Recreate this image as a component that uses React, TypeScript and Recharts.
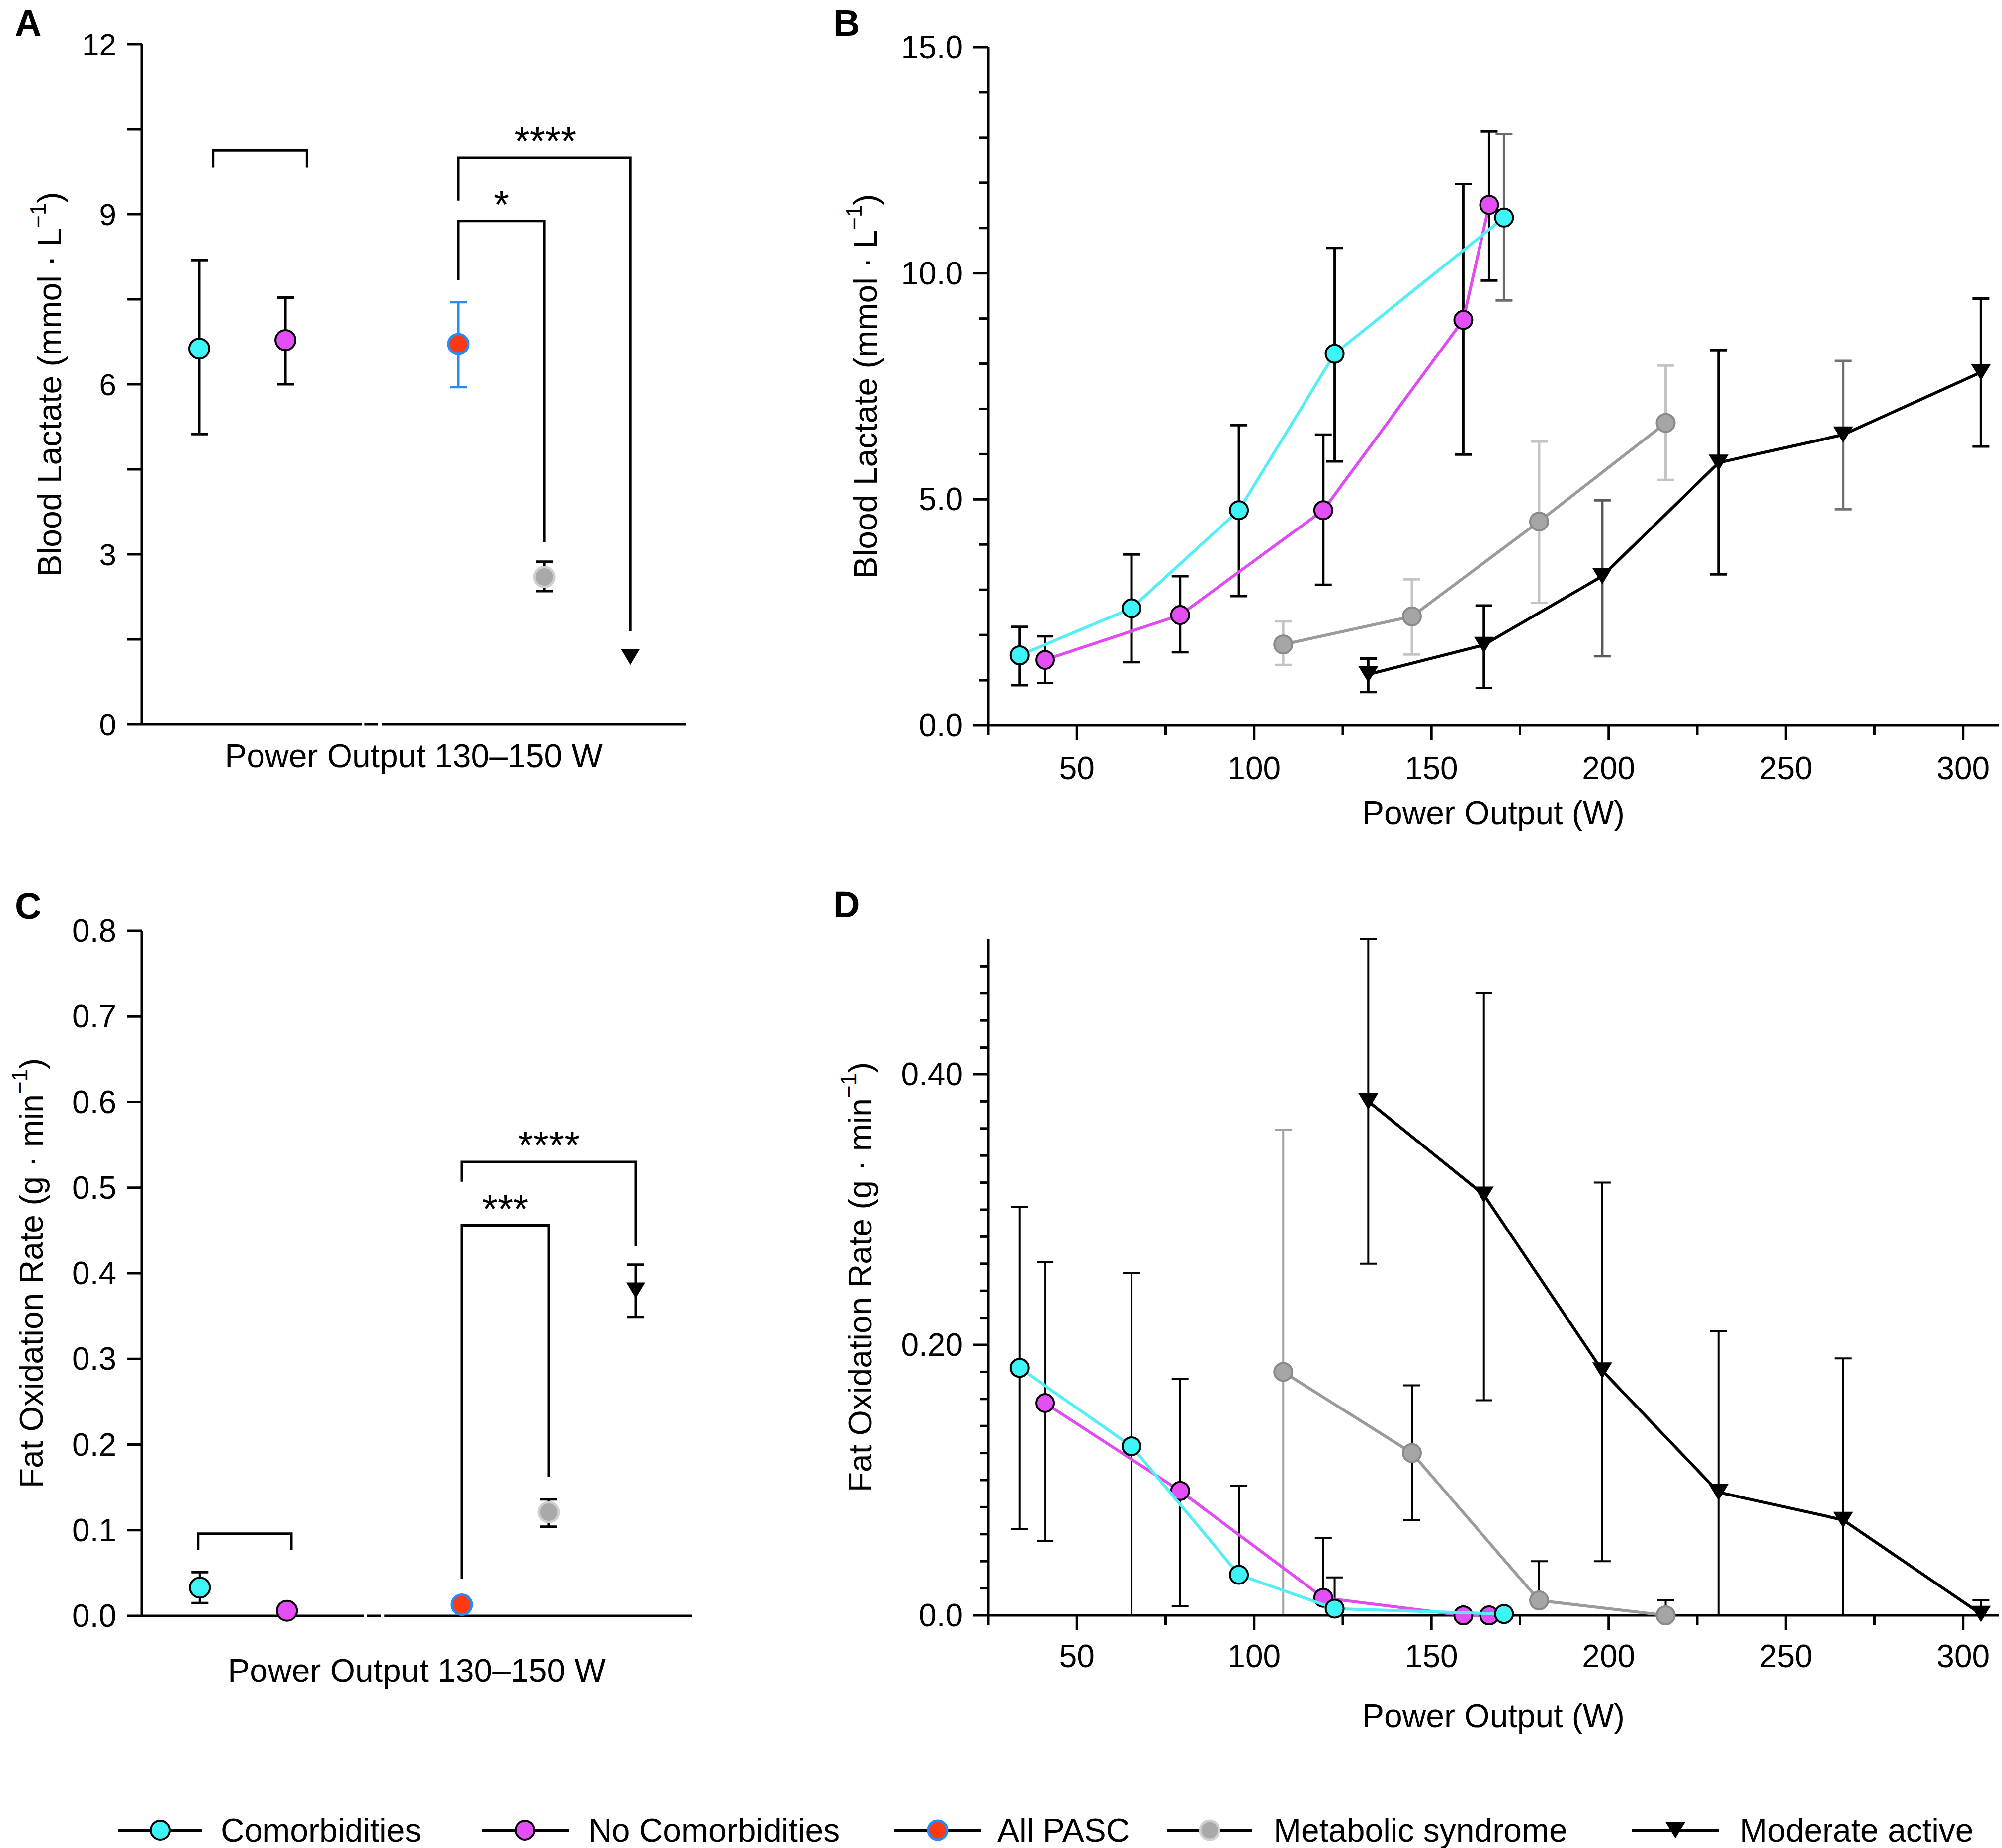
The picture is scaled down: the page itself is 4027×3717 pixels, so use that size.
import React from 'react';
import { ComposedChart, Scatter, XAxis, YAxis, ErrorBar } from 'recharts';

const FONT = '"Liberation Sans", Arial, Helvetica, sans-serif';

// ---------- panels A and C : one stage, 130–150 W ----------
const groupNames = ['Comorbidities', 'No Comorbidities', 'All PASC', 'Metabolic syndrome', 'Moderate active'];
const groupPos = [0.67, 1.67, 3.68, 4.68, 5.68];

const lactMean = [6.63, 6.78, 6.71, 2.6, 1.19];
const lactLow = [5.12, 6.0, 5.95, 2.35, 1.19];
const lactHigh = [8.19, 7.53, 7.45, 2.87, 1.19];

const fatMean = [0.033, 0.006, 0.013, 0.121, 0.38];
const fatLow = [0.015, 0.006, 0.013, 0.104, 0.349];
const fatHigh = [0.051, 0.006, 0.013, 0.136, 0.41];

// significance brackets (data units) and their stars
const lactBrackets = [
  [[0.83, 9.83], [0.83, 10.13], [1.92, 10.13], [1.92, 9.83]],
  [[3.68, 9.24], [3.68, 10.0], [5.68, 10.0], [5.68, 1.64]],
  [[3.68, 7.84], [3.68, 8.88], [4.68, 8.88], [4.68, 3.22]],
];
const lactStars = [{ x: 4.69, y: 10.0, text: '****' }, { x: 4.18, y: 8.88, text: '*' }];

const fatBrackets = [
  [[0.65, 0.077], [0.65, 0.096], [1.72, 0.096], [1.72, 0.077]],
  [[3.68, 0.507], [3.68, 0.53], [5.68, 0.53], [5.68, 0.432]],
  [[3.68, 0.043], [3.68, 0.456], [4.68, 0.456], [4.68, 0.162]],
];
const fatStars = [{ x: 4.68, y: 0.53, text: '****' }, { x: 4.18, y: 0.456, text: '***' }];

// broken baseline of A and C
const baseSegments = [[0, 2.56], [2.59, 2.75], [2.79, 6.32]];

const lactTicksA = [0, 1.5, 3, 4.5, 6, 7.5, 9, 10.5, 12];
const lactLabelsA = ['0', '', '3', '', '6', '', '9', '', '12'];
const fatTicksC = [0, 0.1, 0.2, 0.3, 0.4, 0.5, 0.6, 0.7, 0.8];
const fatLabelsC = ['0.0', '0.1', '0.2', '0.3', '0.4', '0.5', '0.6', '0.7', '0.8'];

// ---------- panels B and D : incremental test ----------
const comorbW = [33.8, 65.4, 95.7, 122.7, 170.5];
const noComorbW = [41.0, 79.1, 119.5, 159.0, 166.3];
const metW = [108.2, 144.5, 180.4, 216.1];
const modW = [132.2, 164.8, 198.2, 231.0, 266.2, 305.0];

const comorbLact = [1.55, 2.59, 4.76, 8.22, 11.23];
const comorbLactLo = [0.89, 1.4, 2.86, 5.84, 9.4];
const comorbLactHi = [2.18, 3.78, 6.64, 10.56, 13.08];
const noComorbLact = [1.45, 2.44, 4.76, 8.97, 11.51];
const noComorbLactLo = [0.94, 1.62, 3.11, 5.99, 9.84];
const noComorbLactHi = [1.97, 3.3, 6.43, 11.97, 13.14];
const metLact = [1.79, 2.41, 4.51, 6.69];
const metLactLo = [1.34, 1.57, 2.71, 5.43];
const metLactHi = [2.3, 3.23, 6.28, 7.96];
const modLact = [1.13, 1.78, 3.3, 5.81, 6.43, 7.81];
const modLactLo = [0.74, 0.83, 1.53, 3.34, 4.78, 6.17];
const modLactHi = [1.48, 2.65, 4.98, 8.3, 8.06, 9.44];

const comorbFat = [0.183, 0.125, 0.03, 0.005, 0.001];
const comorbFatLo = [0.064, 0, 0.03, 0.005, 0.001];
const comorbFatHi = [0.302, 0.253, 0.096, 0.028, 0.001];
const noComorbFat = [0.157, 0.092, 0.013, 0, 0];
const noComorbFatLo = [0.055, 0.007, 0.013, 0, 0];
const noComorbFatHi = [0.261, 0.175, 0.057, 0, 0];
const metFat = [0.18, 0.12, 0.011, 0];
const metFatLo = [0, 0.0705, 0.011, 0];
const metFatHi = [0.359, 0.17, 0.04, 0.011];
const modFat = [0.38, 0.311, 0.181, 0.091, 0.0705, 0.001];
const modFatLo = [0.26, 0.159, 0.04, 0, 0, 0];
const modFatHi = [0.5, 0.46, 0.32, 0.21, 0.19, 0.011];

const wattTicks = [25, 50, 75, 100, 125, 150, 175, 200, 225, 250, 275, 300];
const wattLabelVals = [50, 100, 150, 200, 250, 300];
const wattLabels = ['50', '100', '150', '200', '250', '300'];
const lactTicksB = [0, 1, 2, 3, 4, 5, 6, 7, 8, 9, 10, 11, 12, 13, 14, 15];
const lactLabelValsB = [0, 5, 10, 15];
const lactLabelsB = ['0.0', '5.0', '10.0', '15.0'];
const fatTicksD = Array.from({ length: 25 }, (_, i) => +(i * 0.02).toFixed(2));
const fatLabelValsD = [0, 0.2, 0.4];
const fatLabelsD = ['0.0', '0.20', '0.40'];

// error bar tones per point
const K = '#000';
const lactTone = {
  comorb: [K, K, K, K, '#6b6b6b'],
  noComorb: [K, K, K, K, K],
  met: ['#c4c4c4', '#c4c4c4', '#c4c4c4', '#c4c4c4'],
  mod: [K, K, '#5a5a5a', K, '#707070', K],
};
const fatTone = {
  comorb: [K, K, K, K, K],
  noComorb: [K, K, K, K, K],
  met: ['#a0a0a0', K, K, K],
  mod: [K, K, K, K, K, K],
};

// ---------- styling ----------
const CYAN = '#3df5f6';
const CYAN_LINE = '#55eef6';
const MAG = '#e44ef5';
const MAG_LINE = '#e14cf2';
const RED = '#ff3a12';
const BLUE = '#1f8cff';
const GREY = '#a5a5a5';

type Row = { x: number; y: number; err: [number, number]; tone: string };
const buildRows = (xs: number[], m: number[], lo: number[], hi: number[], tone: string[]): Row[] =>
  xs.map((x, i) => ({ x, y: m[i], err: [m[i] - lo[i], hi[i] - m[i]], tone: tone[i] }));

const blank = () => <g />;
const circle = (fill: string, stroke: string, r: number, sw: number) => (p: any) =>
  <circle cx={p.cx} cy={p.cy} r={r} fill={fill} stroke={stroke} strokeWidth={sw} />;
const tri = (w: number, h: number) => (p: any) =>
  <path d={`M${p.cx - w / 2},${p.cy - h / 2}L${p.cx + w / 2},${p.cy - h / 2}L${p.cx},${p.cy + h / 2}Z`} fill="#000" />;

const shapesAC = [
  circle(CYAN, '#000', 20, 4),
  circle(MAG, '#000', 20, 4),
  circle(RED, BLUE, 20, 5),
  circle('#a9a9a9', '#d0d0d0', 20, 5),
  tri(38, 32),
];
const errColorAC = [K, K, '#2a8cf2', K, K];

const yTickFn = (vals: number[], labels: string[], major: number, minor: number, fs: number) => (p: any) => {
  const v = p.payload.value;
  const i = vals.findIndex((t) => Math.abs(t - v) < 1e-6);
  const lab = i >= 0 ? labels[i] : '';
  const len = lab ? major : minor;
  return (
    <g>
      <line x1={p.x - len} x2={p.x} y1={p.y} y2={p.y} stroke="#000" strokeWidth={5} />
      {lab ? (
        <text x={p.x - major - 21} y={p.y} textAnchor="end" dominantBaseline="central" fontSize={fs} fontFamily={FONT} fill="#000">
          {lab}
        </text>
      ) : null}
    </g>
  );
};

const xTickFn = (vals: number[], labels: string[], major: number, minor: number, fs: number, dy: number) => (p: any) => {
  const v = p.payload.value;
  const i = vals.findIndex((t) => Math.abs(t - v) < 1e-6);
  const len = i >= 0 ? major : minor;
  return (
    <g>
      <line x1={p.x} x2={p.x} y1={p.y} y2={p.y + len} stroke="#000" strokeWidth={5} />
      {i >= 0 ? (
        <text x={p.x} y={p.y + dy} textAnchor="middle" dominantBaseline="central" fontSize={fs} fontFamily={FONT} fill="#000">
          {labels[i]}
        </text>
      ) : null}
    </g>
  );
};

const yTitle = (text: string, cx: number, cy: number) => () => (
  <text x={cx} y={cy} transform={`rotate(-90 ${cx} ${cy})`} textAnchor="middle" dominantBaseline="central" fontSize={66} fontFamily={FONT} fill="#000">
    {text}
    <tspan dy={-24} fontSize={44}>−1</tspan>
    <tspan dy={24}>)</tspan>
  </text>
);

const xTitle = (text: string, cx: number, cy: number) => () => (
  <text x={cx} y={cy} textAnchor="middle" dominantBaseline="central" fontSize={66} fontFamily={FONT} fill="#000">
    {text}
  </text>
);

const lineScatter = (key: string, pts: number[][], width = 5) => (
  <Scatter
    key={key}
    data={pts.map(([x, y]) => ({ x, y }))}
    dataKey="y"
    line={{ stroke: '#000', strokeWidth: width }}
    lineType="joint"
    shape={blank}
    isAnimationActive={false}
  />
);

const starScatter = (key: string, s: { x: number; y: number; text: string }) => (
  <Scatter
    key={key}
    data={[{ x: s.x, y: s.y }]}
    dataKey="y"
    isAnimationActive={false}
    shape={(p: any) => (
      <text x={p.cx} y={p.cy - 6} textAnchor="middle" fontSize={80} fontFamily={FONT} fill="#000">
        {s.text}
      </text>
    )}
  />
);

const groupScatters = (mean: number[], low: number[], high: number[]) =>
  groupPos.map((x, i) => (
    <Scatter
      key={groupNames[i]}
      name={groupNames[i]}
      data={[{ x, y: mean[i], err: [mean[i] - low[i], high[i] - mean[i]] }]}
      dataKey="y"
      shape={shapesAC[i]}
      isAnimationActive={false}
    >
      {high[i] > low[i] ? (
        <ErrorBar dataKey="err" direction="y" width={17} stroke={errColorAC[i]} strokeWidth={5} isAnimationActive={false} />
      ) : null}
    </Scatter>
  ));

const errLayers = (rows: Row[], key: string, sw: number) => {
  const tones = Array.from(new Set(rows.map((r) => r.tone)));
  return tones.map((t) => (
    <Scatter key={key + t} data={rows.filter((r) => r.tone === t)} dataKey="y" shape={blank} isAnimationActive={false}>
      <ErrorBar dataKey="err" direction="y" width={17} stroke={t} strokeWidth={sw} isAnimationActive={false} />
    </Scatter>
  ));
};

const seriesScatter = (rows: Row[], name: string, color: string, shape: any) => (
  <Scatter
    key={name}
    name={name}
    data={rows}
    dataKey="y"
    line={{ stroke: color, strokeWidth: 6 }}
    lineType="joint"
    shape={shape}
    isAnimationActive={false}
  />
);

const PanelA = () => (
  <ComposedChart width={1420} height={1640} margin={{ top: 89, right: 41, bottom: 33, left: 35 }}>
    <XAxis type="number" dataKey="x" domain={[0, 6.32]} tick={false} tickLine={false} axisLine={false} height={150}
      label={{ content: xTitle('Power Output 130–150 W', 832, 1520) }} />
    <YAxis type="number" dataKey="y" domain={[0, 12]} ticks={lactTicksA} interval={0} width={250}
      tickSize={0} tickMargin={0} tickLine={false} axisLine={{ stroke: '#000', strokeWidth: 5 }}
      tick={yTickFn(lactTicksA, lactLabelsA, 30, 30, 62)}
      label={{ content: yTitle('Blood Lactate (mmol · L', 100, 773) }} />
    {baseSegments.map((s, i) => lineScatter('base' + i, [[s[0], 0], [s[1], 0]]))}
    {lactBrackets.map((b, i) => lineScatter('br' + i, b))}
    {lactStars.map((s, i) => starScatter('st' + i, s))}
    {groupScatters(lactMean, lactLow, lactHigh)}
  </ComposedChart>
);

const PanelC = () => (
  <ComposedChart width={1420} height={1800} margin={{ top: 172, right: 29, bottom: 100, left: 35 }}>
    <XAxis type="number" dataKey="x" domain={[0, 6.32]} tick={false} tickLine={false} axisLine={false} height={150}
      label={{ content: xTitle('Power Output 130–150 W', 838, 1660) }} />
    <YAxis type="number" dataKey="y" domain={[0, 0.8]} ticks={fatTicksC} interval={0} width={250}
      tickSize={0} tickMargin={0} tickLine={false} axisLine={{ stroke: '#000', strokeWidth: 5 }}
      tick={yTickFn(fatTicksC, fatLabelsC, 30, 30, 64)}
      label={{ content: yTitle('Fat Oxidation Rate (g · min', 63, 861) }} />
    {baseSegments.map((s, i) => lineScatter('base' + i, [[s[0], 0], [s[1], 0]]))}
    {fatBrackets.map((b, i) => lineScatter('br' + i, b))}
    {fatStars.map((s, i) => starScatter('st' + i, s))}
    {groupScatters(fatMean, fatLow, fatHigh)}
  </ComposedChart>
);

const PanelB = () => {
  const c = buildRows(comorbW, comorbLact, comorbLactLo, comorbLactHi, lactTone.comorb);
  const n = buildRows(noComorbW, noComorbLact, noComorbLactLo, noComorbLactHi, lactTone.noComorb);
  const m = buildRows(metW, metLact, metLactLo, metLactHi, lactTone.met);
  const a = buildRows(modW, modLact, modLactLo, modLactHi, lactTone.mod);
  return (
    <ComposedChart width={2377} height={1720} margin={{ top: 95, right: 7, bottom: 61, left: 38 }}>
      <XAxis type="number" dataKey="x" domain={[25, 310]} ticks={wattTicks} interval={0} height={200}
        tickSize={0} tickMargin={0} tickLine={false} axisLine={{ stroke: '#000', strokeWidth: 5 }}
        tick={xTickFn(wattLabelVals, wattLabels, 30, 19, 64, 86)}
        label={{ content: xTitle('Power Output (W)', 1354, 1635) }} />
      <YAxis type="number" dataKey="y" domain={[0, 15]} ticks={lactTicksB} interval={0} width={300}
        tickSize={0} tickMargin={0} tickLine={false} axisLine={{ stroke: '#000', strokeWidth: 5 }}
        tick={yTickFn(lactLabelValsB, lactLabelsB, 30, 18, 64)}
        label={{ content: yTitle('Blood Lactate (mmol · L', 91, 777) }} />
      {errLayers(m, 'em', 5)}
      {errLayers(a, 'ea', 5)}
      {errLayers(n, 'en', 5)}
      {errLayers(c, 'ec', 5)}
      {seriesScatter(m, 'Metabolic syndrome', '#9b9b9b', circle(GREY, '#8a8a8a', 18, 4))}
      {seriesScatter(a, 'Moderate active', '#000', tri(40, 33))}
      {seriesScatter(n, 'No Comorbidities', MAG_LINE, circle(MAG, '#000', 18, 4))}
      {seriesScatter(c, 'Comorbidities', CYAN_LINE, circle(CYAN, '#000', 18, 4))}
    </ComposedChart>
  );
};

const PanelD = () => {
  const c = buildRows(comorbW, comorbFat, comorbFatLo, comorbFatHi, fatTone.comorb);
  const n = buildRows(noComorbW, noComorbFat, noComorbFatLo, noComorbFatHi, fatTone.noComorb);
  const m = buildRows(metW, metFat, metFatLo, metFatHi, fatTone.met);
  const a = buildRows(modW, modFat, modFatLo, modFatHi, fatTone.mod);
  return (
    <ComposedChart width={2377} height={1800} margin={{ top: 189, right: 7, bottom: 51, left: 38 }}>
      <XAxis type="number" dataKey="x" domain={[25, 310]} ticks={wattTicks} interval={0} height={200}
        tickSize={0} tickMargin={0} tickLine={false} axisLine={{ stroke: '#000', strokeWidth: 5 }}
        tick={xTickFn(wattLabelVals, wattLabels, 30, 19, 64, 82)}
        label={{ content: xTitle('Power Output (W)', 1354, 1751) }} />
      <YAxis type="number" dataKey="y" domain={[0, 0.5]} ticks={fatTicksD} interval={0} width={300}
        tickSize={0} tickMargin={0} tickLine={false} axisLine={{ stroke: '#000', strokeWidth: 5 }}
        tick={yTickFn(fatLabelValsD, fatLabelsD, 30, 17, 64)}
        label={{ content: yTitle('Fat Oxidation Rate (g · min', 80, 869) }} />
      {errLayers(m, 'em', 4)}
      {errLayers(a, 'ea', 4)}
      {errLayers(n, 'en', 4)}
      {errLayers(c, 'ec', 4)}
      {seriesScatter(m, 'Metabolic syndrome', '#9b9b9b', circle(GREY, '#8a8a8a', 18, 4))}
      {seriesScatter(a, 'Moderate active', '#000', tri(40, 33))}
      {seriesScatter(n, 'No Comorbidities', MAG_LINE, circle(MAG, '#000', 18, 4))}
      {seriesScatter(c, 'Comorbidities', CYAN_LINE, circle(CYAN, '#000', 18, 4))}
    </ComposedChart>
  );
};

const legendItems = [
  { name: groupNames[0], x0: 237, x1: 407, mx: 322, tx: 444, shape: circle(CYAN, '#000', 19, 4) },
  { name: groupNames[1], x0: 969, x1: 1144, mx: 1056, tx: 1183, shape: circle(MAG, '#000', 19, 4) },
  { name: groupNames[2], x0: 1798, x1: 1974, mx: 1886, tx: 2006, shape: circle(RED, BLUE, 19, 5) },
  { name: groupNames[3], x0: 2347, x1: 2518, mx: 2433, tx: 2562, shape: circle('#a9a9a9', '#d0d0d0', 19, 5) },
  { name: groupNames[4], x0: 3282, x1: 3458, mx: 3370, tx: 3500, shape: tri(40, 33) },
];
const LEGEND_Y = 3681;

export default function App() {
  return (
    <div style={{ position: 'absolute', left: 0, top: 0, width: 4027, height: 3717, background: '#fff', fontFamily: FONT }}>
      <svg width={4027} height={3717} style={{ position: 'absolute', left: 0, top: 0 }}>
        <g fontFamily={FONT} fontWeight="bold" fontSize={74} fill="#000">
          <text x={30} y={72}>A</text>
          <text x={1676} y={72}>B</text>
          <text x={30} y={1848}>C</text>
          <text x={1676} y={1845}>D</text>
        </g>
        {legendItems.map((it) => (
          <g key={it.name}>
            <line x1={it.x0} x2={it.x1} y1={LEGEND_Y} y2={LEGEND_Y} stroke="#000" strokeWidth={6} />
            {it.shape({ cx: it.mx, cy: LEGEND_Y })}
            <text x={it.tx} y={LEGEND_Y} dominantBaseline="central" fontSize={66} fontFamily={FONT} fill="#000">
              {it.name}
            </text>
          </g>
        ))}
      </svg>
      <div style={{ position: 'absolute', left: 0, top: 0 }}><PanelA /></div>
      <div style={{ position: 'absolute', left: 1650, top: 0 }}><PanelB /></div>
      <div style={{ position: 'absolute', left: 0, top: 1700 }}><PanelC /></div>
      <div style={{ position: 'absolute', left: 1650, top: 1700 }}><PanelD /></div>
    </div>
  );
}
